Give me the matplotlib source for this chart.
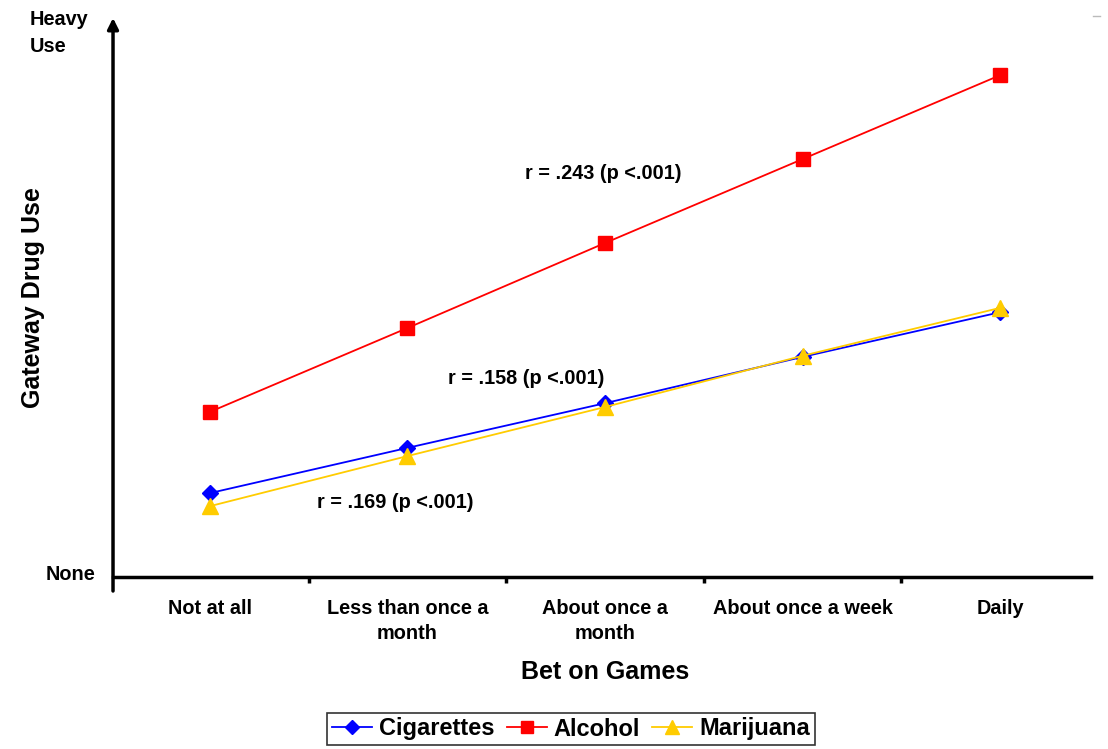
import matplotlib.pyplot as plt
from matplotlib.lines import Line2D

plt.rcParams['font.family'] = ['Liberation Sans', 'DejaVu Sans']
plt.rcParams['font.weight'] = 'bold'

# categories on the x axis
categories = ["Not at all", "Less than once a\nmonth", "About once a\nmonth",
              "About once a week", "Daily"]

# values (0 = None, 100 = Heavy Use)
cigarettes = [15.4, 23.7, 31.9, 40.4, 48.6]
alcohol = [30.3, 45.7, 61.3, 76.7, 92.1]
marijuana = [13.0, 22.2, 31.2, 40.6, 49.4]

# correlation notes: (text, x position, y value)
notes = [("r = .243 (p <.001)", 1.99, 74.0),
         ("r = .158 (p <.001)", 1.6, 36.5),
         ("r = .169 (p <.001)", 0.94, 13.6)]

fig = plt.figure(figsize=(11.08, 7.49), dpi=100)
ax = fig.add_axes([0.102, 0.2296, 0.8827, 0.7464])

x = range(len(categories))
ax.plot(x, cigarettes, color='#0000FF', lw=1.3, marker='D', ms=8, label='Cigarettes')
ax.plot(x, alcohol, color='#FF0000', lw=1.3, marker='s', ms=10, label='Alcohol')
ax.plot(x, marijuana, color='#FFCC00', lw=1.3, marker='^', ms=11, label='Marijuana')

for txt, tx, ty in notes:
    ax.text(tx, ty, txt, ha='center', va='center', fontsize=14.3, fontweight='bold')

ax.set_xlim(-0.49, 4.46)
ax.set_ylim(0, 102.6)

for s in ['top', 'right', 'left']:
    ax.spines[s].set_visible(False)
ax.spines['bottom'].set_linewidth(2.5)

ax.set_xticks(list(x))
ax.set_xticklabels(categories, fontsize=14.3, fontweight='bold', linespacing=1.45)
ax.tick_params(axis='x', which='major', length=0, pad=15.5)
ax.set_xticks([0.5, 1.5, 2.5, 3.5], minor=True)
ax.tick_params(axis='x', which='minor', length=4, width=2.5, direction='out')
ax.set_yticks([])

# y axis drawn as an arrow
ax.annotate('', xy=(0, 1.0), xytext=(0, -0.025), xycoords='axes fraction',
            arrowprops=dict(arrowstyle='-|>', lw=2.5, color='black',
                            mutation_scale=16, shrinkA=0, shrinkB=0),
            annotation_clip=False)

fig.text(605 / 1108, 1 - 672 / 749, "Bet on Games", ha='center', va='center',
         fontsize=18, fontweight='bold')
fig.text(33 / 1108, 1 - 298 / 749, "Gateway Drug Use", ha='center', va='center',
         rotation=90, fontsize=18, fontweight='bold')
fig.text(95 / 1108, 1 - 574 / 749, "None", ha='right', va='center',
         fontsize=14.3, fontweight='bold')
fig.text(30 / 1108, 1 - 10 / 749, "Heavy\nUse", ha='left', va='top',
         fontsize=14.3, fontweight='bold', linespacing=1.55)

# tiny grey dash at top right corner
fig.add_artist(Line2D([1093 / 1108, 1100 / 1108], [1 - 16 / 749, 1 - 16 / 749],
                      color='#bbbbbb', lw=1))

leg = fig.legend(loc='center', bbox_to_anchor=(571 / 1108, 1 - 729 / 749), ncol=3,
                 prop={'size': 17, 'weight': 'bold'}, frameon=True, fancybox=False,
                 edgecolor='black', handlelength=1.7, handletextpad=0.3,
                 columnspacing=0.5, borderpad=0.2, markerscale=0.9)
leg.get_frame().set_linewidth(1.2)

fig.savefig('out.png', dpi=100)
